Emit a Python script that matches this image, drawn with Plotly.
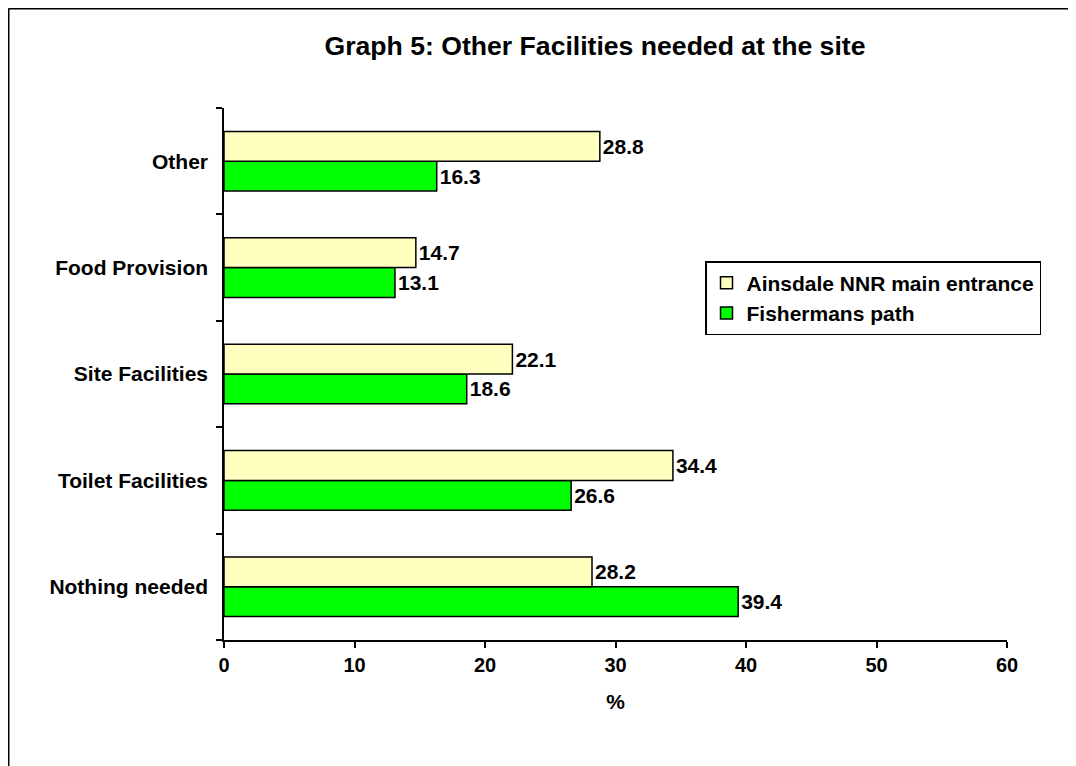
import plotly.graph_objects as go

categories = ["Nothing needed", "Toilet Facilities", "Site Facilities", "Food Provision", "Other"]
ainsdale = [28.2, 34.4, 22.1, 14.7, 28.8]
fishermans = [39.4, 26.6, 18.6, 13.1, 16.3]
x_ticks = [0, 10, 20, 30, 40, 50, 60]

FAM = "Arial, Liberation Sans, sans-serif"
def f(size):
    return dict(family=FAM, size=size, color="black", weight="bold")

# page has an 8px body margin; figure extends past the window so its edges are not seen
W, H = 1100, 800
L, T = 216, 100
R, B = W - 999, H - 632
PW, PH = W - L - R, H - T - B

fig = go.Figure()
fig.add_trace(go.Bar(
    y=categories, x=fishermans, orientation="h", name="Fishermans path",
    marker=dict(color="#00FF00", line=dict(color="black", width=1.5)),
    text=[f"{v:.1f}" for v in fishermans], textposition="outside",
    textfont=f(21), cliponaxis=False,
))
fig.add_trace(go.Bar(
    y=categories, x=ainsdale, orientation="h", name="Ainsdale NNR main entrance",
    marker=dict(color="#FFFFC0", line=dict(color="black", width=1.5)),
    text=[f"{v:.1f}" for v in ainsdale], textposition="outside",
    textfont=f(21), cliponaxis=False,
))

fig.update_layout(
    width=W, height=H,
    margin=dict(l=L, r=R, t=T, b=B),
    paper_bgcolor="white", plot_bgcolor="white",
    barmode="group", bargap=0.44, bargroupgap=0,
    font=f(21),
    title=dict(text="Graph 5: Other Facilities needed at the site",
               x=(595 - 8) / W, xanchor="center",
               y=1 - (46 - 8) / H, yanchor="middle",
               font=f(26.6)),
    legend=dict(x=(697 - L) / PW, y=(632 - (261 - 8)) / PH, xanchor="left", yanchor="top",
                traceorder="reversed", bordercolor="black", borderwidth=1.5,
                bgcolor="white", font=f(21), tracegroupgap=0,
                itemwidth=30),
    uniformtext=dict(minsize=21, mode="show"),
)
fig.update_xaxes(range=[0, 60], tickvals=x_ticks, ticks="outside", ticklen=6,
                 tickwidth=1.5, tickcolor="black", showline=True, linecolor="black",
                 linewidth=1.5, showgrid=False, zeroline=False,
                 title=dict(text="%", font=f(21), standoff=20),
                 tickfont=f(20))
fig.update_yaxes(categoryorder="array", categoryarray=categories,
                 ticks="outside", tickson="boundaries", ticklen=6, tickwidth=1.5,
                 tickcolor="black", showline=True, linecolor="black", linewidth=1.5,
                 showgrid=False, tickfont=f(21), ticklabelstandoff=10)

# outer chart border: only left and top edges are visible in the reference
bx = (0.5 - L) / PW
by_top = (PH + T - 0.5) / PH
by_bot = (PH + T - (H + 20)) / PH
bx_right = (W + 20 - L) / PW
fig.add_shape(type="line", xref="paper", yref="paper", x0=bx, x1=bx, y0=by_bot, y1=by_top,
              line=dict(color="black", width=2), layer="below")
fig.add_shape(type="line", xref="paper", yref="paper", x0=bx, x1=bx_right, y0=by_top, y1=by_top,
              line=dict(color="black", width=2), layer="below")

fig.write_html("out.html")
